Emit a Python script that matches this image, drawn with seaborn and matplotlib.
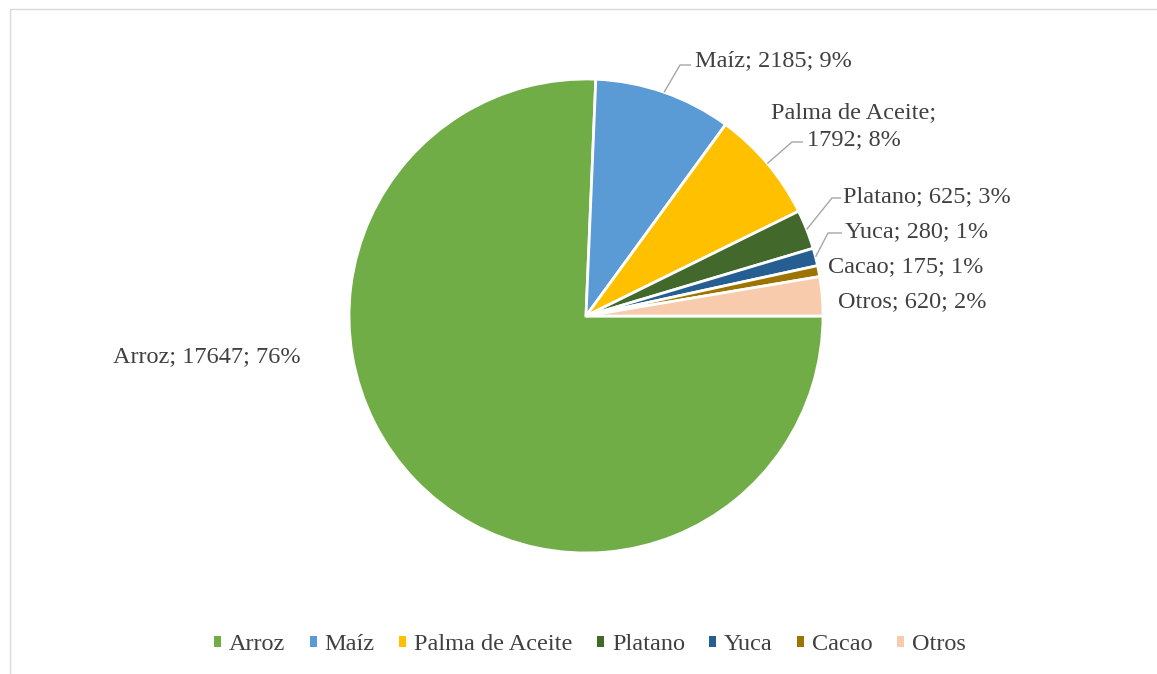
import numpy as np
import matplotlib
matplotlib.use("Agg")
import matplotlib.pyplot as plt
from matplotlib.patches import Patch
from matplotlib.lines import Line2D
import seaborn as sns

# ---- data ----
categories = ["Arroz", "Maíz", "Palma de Aceite", "Platano", "Yuca", "Cacao", "Otros"]
values = [17647, 2185, 1792, 625, 280, 175, 620]
percents = [76, 9, 8, 3, 1, 1, 2]
colors = ["#70AD47", "#5B9BD5", "#FFC000", "#43682B", "#255E91", "#9E7400", "#F8CBAD"]

sns.set_theme(style="white")
plt.rcParams["font.family"] = ["Liberation Serif", "DejaVu Serif"]

W, H = 1157, 674
fig = plt.figure(figsize=(W / 100, H / 100), dpi=100)
fig.patch.set_facecolor("white")

# pie geometry in pixels
cx, cy, R = 586, 316, 237

def X(px):
    return (px - cx) / R

def Y(py):
    return (cy - py) / R

ax = fig.add_axes([0, 0, 1, 1])
palette = sns.color_palette(colors)
wedges, _ = ax.pie(values, colors=palette, startangle=0, counterclock=False,
                   radius=1.0, center=(0, 0),
                   wedgeprops=dict(edgecolor="white", linewidth=2.0))
ax.set_xlim(X(0), X(W))
ax.set_ylim(Y(H), Y(0))
ax.set_aspect("auto")
ax.axis("off")

txt_color = "#404040"
line_color = "#A6A6A6"
fs = 17.5

def mid_point(w, r=1.0):
    ang = np.deg2rad((w.theta1 + w.theta2) / 2)
    return r * np.cos(ang), r * np.sin(ang)

labels = [f"{c}; {v}; {p}%" for c, v, p in zip(categories, values, percents)]

# text positions (px, left x / baseline y)
text_pos = {
    0: (113, 362, "left"),
    1: (695, 66, "left"),
    3: (843, 202, "left"),
    4: (845, 237, "left"),
    5: (828, 272, "left"),
    6: (838, 307, "left"),
}
for i, (px, py, ha) in text_pos.items():
    ax.text(X(px), Y(py), labels[i], ha=ha, va="baseline", fontsize=fs, color=txt_color)

# Palma de Aceite split onto two lines
ax.text(X(854), Y(118), f"{categories[2]};", ha="center", va="baseline", fontsize=fs, color=txt_color)
ax.text(X(854), Y(145), f"{values[2]}; {percents[2]}%", ha="center", va="baseline", fontsize=fs, color=txt_color)

leaders = {
    1: ((680, 65), (691, 65)),
    2: ((792, 142), (803, 142)),
    3: ((832, 198), (841, 198)),
    4: ((828, 233), (842, 233)),
}
for i, (elb, end) in leaders.items():
    mx, my = mid_point(wedges[i], 1.0)
    ax.add_line(Line2D([mx, X(elb[0]), X(end[0])], [my, Y(elb[1]), Y(end[1])],
                       color=line_color, lw=1.0, solid_capstyle="butt"))

# legend
handles = [Patch(facecolor=c, edgecolor="none") for c in colors]
fig.legend(handles, categories, loc="center", bbox_to_anchor=(590 / W, 1 - 645 / H),
           ncol=7, frameon=False, fontsize=fs, labelcolor=txt_color,
           handlelength=0.29, handleheight=0.29, handletextpad=0.33,
           columnspacing=1.0, borderpad=0)

# chart-area border (top and left visible)
fig.add_artist(Line2D([9.5 / W, 9.5 / W, 1.0], [0.0, 1 - 9 / H, 1 - 9 / H],
                      transform=fig.transFigure, color="#D9D9D9", lw=1.0))

fig.savefig("out.png", dpi=100, facecolor="white")
